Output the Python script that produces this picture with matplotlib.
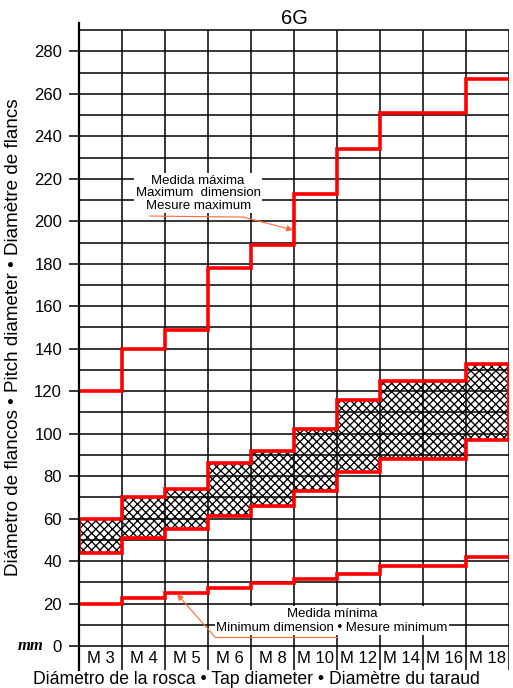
import matplotlib
matplotlib.use("Agg")
import matplotlib.pyplot as plt
import numpy as np

plt.rcParams['font.family'] = ['Liberation Sans', 'DejaVu Sans']
plt.rcParams['hatch.linewidth'] = 0.95

# ---------------- data ----------------
categories = ["M 3", "M 4", "M 5", "M 6", "M 8", "M 10", "M 12", "M 14", "M 16", "M 18"]
max_dim = [120, 140, 149, 178, 189, 213, 234, 251, 251, 267]
band_top = [60, 70, 74, 86, 92, 102, 116, 125, 125, 133]
band_bottom = [44, 51, 55, 61, 66, 73, 82, 88, 88, 97]
min_dim = [20, 22.5, 25, 27.5, 29.5, 31.5, 34, 37.5, 37.5, 42]
y_ticks = list(range(0, 281, 20))
title = "6G"
y_label = "Diámetro de flancos • Pitch diameter • Diamètre de flancs"
x_label = "Diámetro de la rosca • Tap diameter • Diamètre du taraud"
max_text = "Medida máxima\nMaximum  dimension\nMesure maximum"
min_text = "Medida mínima\nMinimum dimension • Mesure minimum"

W, H = 513, 688
fig = plt.figure(figsize=(W / 100, H / 100), dpi=100)
ax = fig.add_axes([79 / W, 1 - 670 / H, (509 - 79) / W, (670 - 23) / H])

n = len(categories)
edges = np.arange(n + 1) - 0.5
ax.set_xlim(-0.5, n - 0.5)
ax.set_ylim(-11.3, 293.4)

# hatched tolerance band
ax.bar(np.arange(n), np.array(band_top) - np.array(band_bottom), bottom=band_bottom,
       width=1.0, facecolor='white', edgecolor='black', hatch='xxxx', linewidth=0, zorder=1)

# grid
grid_top = 290
ax.hlines(np.arange(0, grid_top + 1, 10), -0.5, n - 0.5, colors='black', lw=1.1, zorder=2)
ax.vlines(edges[1:], -11.3, grid_top, colors='black', lw=1.1, zorder=2)

red = '#ff0000'
lw_red = 2.6
ax.stairs(band_top, edges, baseline=band_bottom, color=red, lw=lw_red, zorder=4,
          joinstyle='miter')
ax.stairs(max_dim, edges, baseline=None, color=red, lw=lw_red, zorder=4)
ax.stairs(min_dim, edges, baseline=None, color=red, lw=lw_red, zorder=4)

# spines & ticks
for s in ['top', 'right', 'bottom']:
    ax.spines[s].set_visible(False)
ax.spines['left'].set_linewidth(1.6)
ax.spines['left'].set_zorder(5)
ax.set_xticks([])
ax.set_yticks(y_ticks)
ax.tick_params(axis='y', direction='out', length=7.2, width=1.1, pad=5, labelsize=12)

# category labels
for i, c in enumerate(categories):
    ax.text(i, -5.8, c, ha='center', va='center', fontsize=12, zorder=6)

# mm unit
ax.text(-0.5 - 36 / 43, 0, "mm", ha='right', va='center',
        fontsize=12, fontstyle='italic', fontweight='bold', family='Liberation Serif')

# titles
fig.text(294 / W, 1 - 18 / H, title, ha='center', va='center', fontsize=14.5)
fig.text(256 / W, 1 - 680 / H, x_label, ha='center', va='center', fontsize=12.7)
fig.text(14 / W, 1 - 337 / H, y_label, ha='center', va='center', rotation=90, fontsize=13.6)

orange = '#ff6a3d'
# max annotation
ax.text(2.27, 213.3, max_text, ha='center', va='center', fontsize=9.5, linespacing=1.05,
        zorder=7, bbox=dict(boxstyle='square,pad=0.12', fc='white', ec='none'))
ax.plot([1.151, 3.314], [202.5, 202.0], color=orange, lw=0.8, zorder=8)
ax.annotate("", xy=(4.477, 195.9), xytext=(3.314, 202.0),
            arrowprops=dict(arrowstyle='-|>', color=orange, lw=0.8, mutation_scale=9,
                            shrinkA=0, shrinkB=0), zorder=8)

# min annotation
ax.text(5.38, 11.8, min_text, ha='center', va='center', fontsize=9.5, linespacing=1.2,
        zorder=7, bbox=dict(boxstyle='square,pad=0.12', fc='white', ec='none'))
ax.plot([2.663, 5.5], [4.2, 4.2], color=orange, lw=0.8, zorder=8)
ax.annotate("", xy=(1.779, 24.5), xytext=(2.663, 4.2),
            arrowprops=dict(arrowstyle='-|>', color=orange, lw=0.8, mutation_scale=9,
                            shrinkA=0, shrinkB=0), zorder=8)

fig.savefig("out.png", dpi=100)
